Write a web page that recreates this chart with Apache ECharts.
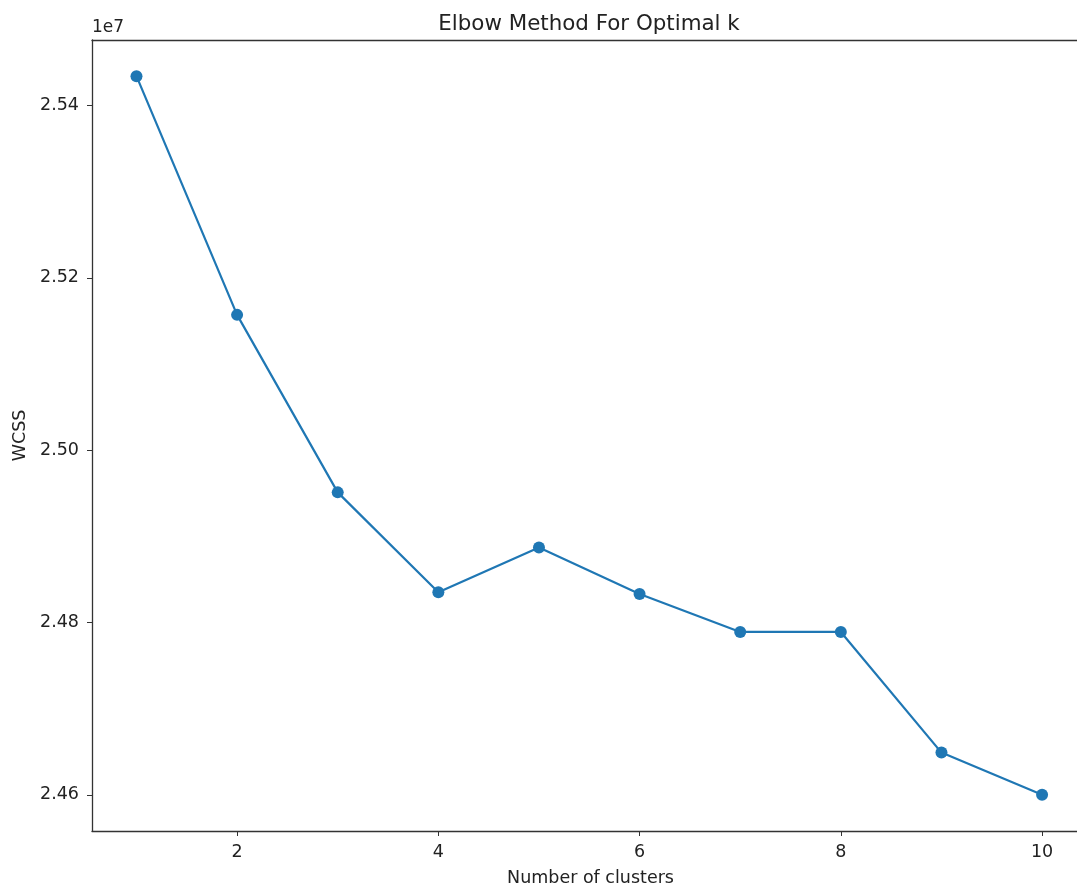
<!DOCTYPE html>
<html>
<head>
<meta charset="utf-8">
<title>Elbow Method For Optimal k</title>
<script src="https://cdn.jsdelivr.net/npm/echarts@6/dist/echarts.min.js"></script>
<style>
  html, body { margin: 0; padding: 0; background: #fff; }
  #chart { width: 1077px; height: 885px; }
</style>
</head>
<body>
<div id="chart"></div>
<script>
// data
const clusters = [1, 2, 3, 4, 5, 6, 7, 8, 9, 10]
const wcss = [2.5434e7, 2.5157e7, 2.4951e7, 2.4835e7, 2.4887e7, 2.4833e7, 2.4789e7, 2.4789e7, 2.4649e7, 2.4600e7]
const xTicks = [2, 4, 6, 8, 10]
const yTicks = [2.46e7, 2.48e7, 2.50e7, 2.52e7, 2.54e7]

const font = 'DejaVu Sans'
const axisColor = '#333'
const textColor = '#222'
const lineColor = '#1f77b4'

const chart = echarts.init(document.getElementById('chart'))

chart.setOption({
  backgroundColor: '#fff',
  animation: false,
  title: {
    text: 'Elbow Method For Optimal k',
    left: 584,
    top: 9,
    textAlign: 'center',
    textStyle: { fontFamily: font, fontSize: 21.4, fontWeight: 'normal', color: textColor }
  },
  graphic: [{
    type: 'text',
    left: 92,
    top: 19,
    style: { text: '1e7', fontFamily: font, fontSize: 17, fill: textColor }
  }],
  // plot area runs past the right edge of the picture (cropped), so max is cut there
  grid: { left: 92, right: 0, top: 40, bottom: 54, outerBoundsMode: 'none' },
  xAxis: [{
    type: 'value',
    min: 0.558,
    max: 10.347,
    name: 'Number of clusters',
    nameLocation: 'middle',
    nameGap: 38,
    nameTextStyle: { fontFamily: font, fontSize: 17.5, color: textColor, padding: [0, 0, 0, 12] },
    axisLine: { show: true, lineStyle: { color: axisColor, width: 1.3 } },
    axisTick: { show: true, length: 5, customValues: xTicks, lineStyle: { color: axisColor } },
    axisLabel: { customValues: xTicks, margin: 12, fontFamily: font, fontSize: 17.5, color: textColor },
    splitLine: { show: false }
  }, {
    // top spine
    type: 'value',
    position: 'top',
    min: 0.558,
    max: 10.347,
    axisLine: { show: true, lineStyle: { color: axisColor, width: 1.3 } },
    axisTick: { show: false },
    axisLabel: { show: false },
    splitLine: { show: false }
  }],
  yAxis: {
    type: 'value',
    min: 2.4558e7,
    max: 2.5476e7,
    name: 'WCSS',
    nameLocation: 'middle',
    nameGap: 62,
    nameTextStyle: { fontFamily: font, fontSize: 17.5, color: textColor },
    axisLine: { show: true, lineStyle: { color: axisColor, width: 1.3 } },
    axisTick: { show: true, length: 5, customValues: yTicks, lineStyle: { color: axisColor } },
    axisLabel: {
      customValues: yTicks,
      margin: 13,
      fontFamily: font,
      fontSize: 17.5,
      color: textColor,
      formatter: v => (v / 1e7).toFixed(2)
    },
    splitLine: { show: false }
  },
  series: [{
    type: 'line',
    xAxisIndex: 0,
    data: clusters.map((k, i) => [k, wcss[i]]),
    symbol: 'circle',
    symbolSize: 12,
    lineStyle: { color: lineColor, width: 2.2 },
    itemStyle: { color: lineColor }
  }]
})
window.addEventListener('resize', () => chart.resize())
</script>
</body>
</html>
